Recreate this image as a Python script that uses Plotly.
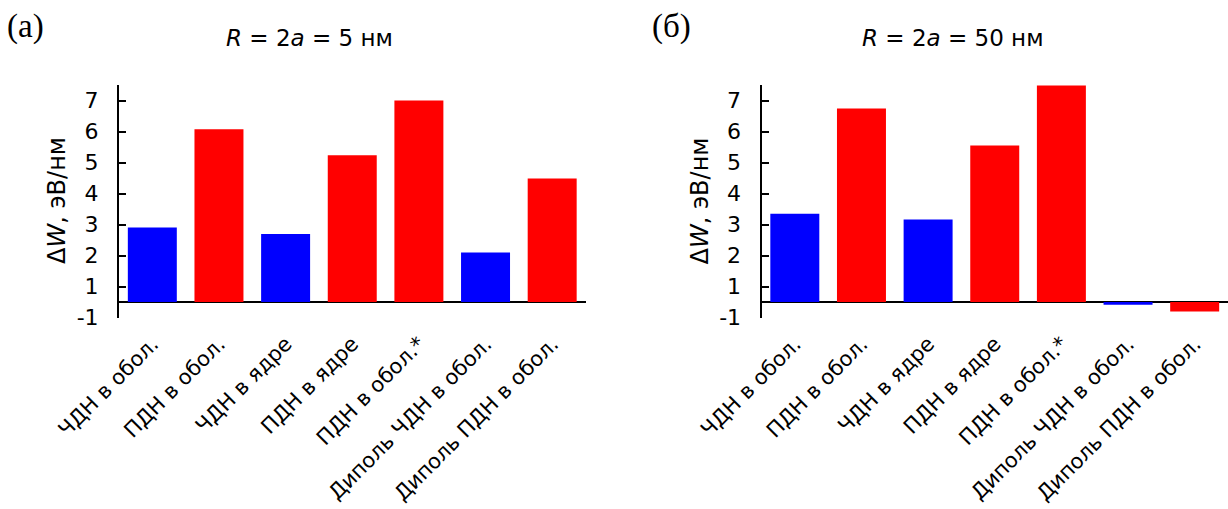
import plotly.graph_objects as go

categories = ["ЧДН в обол.", "ПДН в обол.", "ЧДН в ядре", "ПДН в ядре",
              "ПДН в обол.*", "Диполь ЧДН в обол.", "Диполь ПДН в обол."]
values_5nm = [2.90, 6.07, 2.69, 5.23, 7.00, 2.10, 4.48]
values_50nm = [3.35, 6.74, 3.16, 5.55, 7.48, -0.17, -0.61]
tick_labels = [-1, 1, 2, 3, 4, 5, 6, 7]
panel_titles = ["<i>R</i> = 2<i>a</i> = 5 нм", "<i>R</i> = 2<i>a</i> = 50 нм"]
panel_letters = ["(а)", "(б)"]
y_title = "Δ<i>W</i>, эВ/нм"

BLUE = "#0000FF"
RED = "#FF0000"


def to_axis(v):
    # the axis has no "0" label: the interval between -1 and 1 occupies one tick step
    if v >= 1:
        return v - 0.5
    if v <= -1:
        return v + 0.5
    return v / 2.0


colors = [BLUE if "ЧДН" in c else RED for c in categories]
FONT = "DejaVu Sans"
W, H = 1228, 509

fig = go.Figure()
for i, vals in enumerate([values_5nm, values_50nm]):
    sfx = "" if i == 0 else "2"
    fig.add_trace(go.Bar(
        x=categories, y=[to_axis(v) for v in vals],
        marker=dict(color=colors, line=dict(width=0)),
        xaxis="x" + sfx, yaxis="y" + sfx, showlegend=False,
    ))

x_domains = [[119 / W, 585.5 / W], [761.5 / W, 1.0]]
y_domain = [(H - 317.5) / H, (H - 85) / H]

for i in range(2):
    sfx = "" if i == 0 else str(i + 1)
    fig.update_layout(**{
        "xaxis" + sfx: dict(
            domain=x_domains[i], anchor="y" + sfx, type="category",
            showline=False, showgrid=False, zeroline=False, ticks="",
            tickangle=-45, ticklabelstandoff=9, automargin=False,
            tickfont=dict(family=FONT, size=21, color="black"),
        ),
        "yaxis" + sfx: dict(
            domain=y_domain, anchor="x" + sfx, range=[-0.5, 7.0],
            showline=True, linecolor="black", linewidth=2,
            showgrid=False, zeroline=True, zerolinecolor="black", zerolinewidth=2,
            tickvals=[to_axis(t) for t in tick_labels],
            ticktext=[str(t) for t in tick_labels],
            ticks="inside", ticklen=7, tickwidth=2, tickcolor="black",
            ticklabelstandoff=14, automargin=False,
            tickfont=dict(family=FONT, size=22, color="black"),
            layer="above traces",
        ),
    })

annotations = []
title_x = [309, 953]
letter_x = [25, 671]
ytitle_x = [57, 699.5]
for i in range(2):
    annotations.append(dict(
        text=panel_titles[i], x=title_x[i] / W, y=(H - 38) / H,
        xref="paper", yref="paper", showarrow=False,
        xanchor="center", yanchor="middle",
        font=dict(family=FONT, size=23, color="black")))
    annotations.append(dict(
        text=panel_letters[i], x=letter_x[i] / W, y=(H - 26) / H,
        xref="paper", yref="paper", showarrow=False,
        xanchor="center", yanchor="middle",
        font=dict(family="Liberation Serif", size=33, color="black")))
    annotations.append(dict(
        text=y_title, x=ytitle_x[i] / W, y=(H - 201) / H,
        xref="paper", yref="paper", showarrow=False, textangle=-90,
        xanchor="center", yanchor="middle",
        font=dict(family=FONT, size=24, color="black")))

fig.update_layout(
    width=W, height=H, margin=dict(l=0, r=0, t=0, b=0),
    paper_bgcolor="white", plot_bgcolor="white",
    bargap=0.265, annotations=annotations,
)

fig.write_html("out.html")
